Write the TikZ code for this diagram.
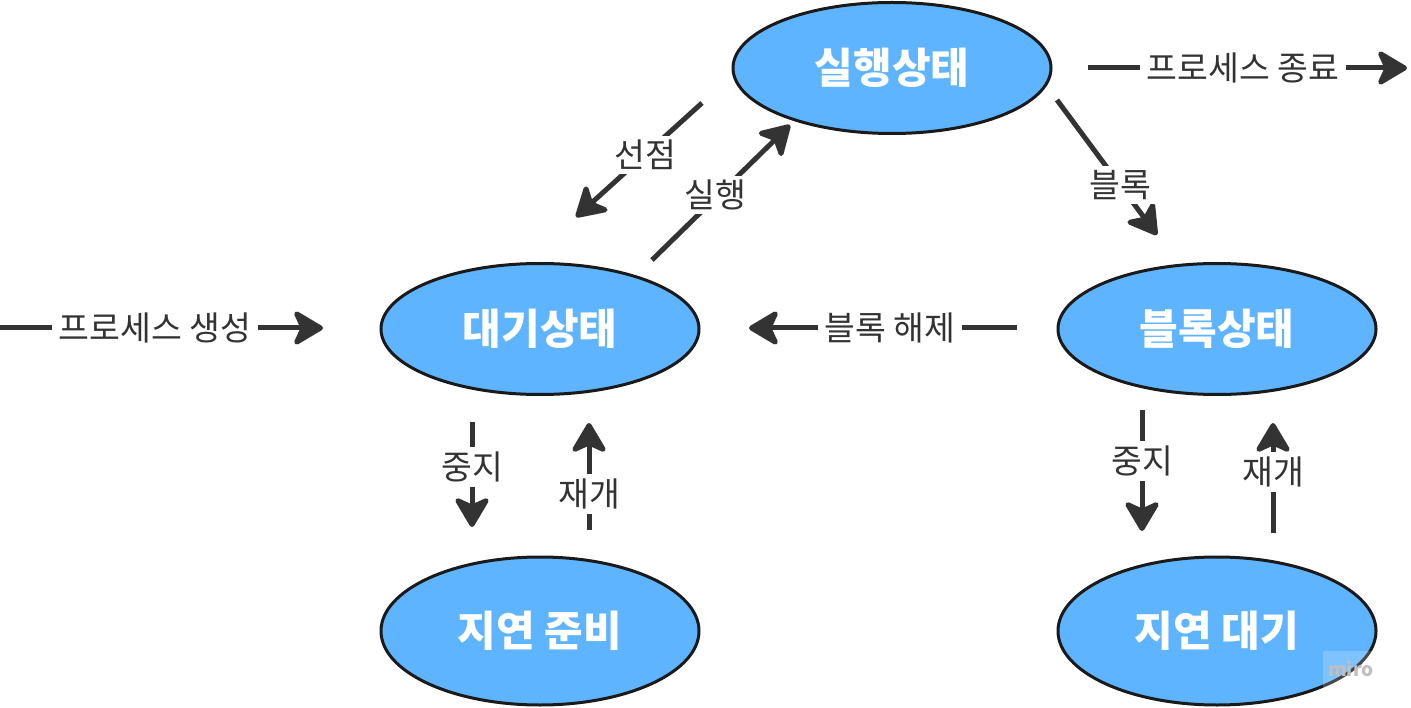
\documentclass[tikz,border=0pt]{standalone}
\usepackage{fontspec}
\setmainfont{Noto Sans CJK KR}
\usetikzlibrary{arrows.meta,shapes.geometric}
\definecolor{nodeblue}{HTML}{5EB4FF}
\definecolor{arrowgray}{HTML}{333333}
\definecolor{outlinecol}{HTML}{1A1A1A}
\begin{document}
\begin{tikzpicture}[x=1pt,y=-1pt,
  state/.style={ellipse, draw=outlinecol, line width=3pt, fill=nodeblue,
    minimum width=318pt, minimum height=131pt, inner sep=0pt,
    text=white, font=\fontsize{42}{46}\selectfont\bfseries},
  tallstate/.style={state, minimum height=148pt},
  flow/.style={draw=arrowgray, line width=5pt, -{Stealth[length=34pt,width=40pt,inset=9pt,round]}},
  lbl/.style={fill=white, text=arrowgray, inner sep=7pt, font=\fontsize{33.5}{37}\selectfont}]
\useasboundingbox (0,0) rectangle (1411,708);
\fill[white] (0,0) rectangle (1411,708);

% states
\node[state] (run) at (892,68) {실행상태};
\node[state] (ready) at (540,329) {대기상태};
\node[state] (block) at (1217,329) {블록상태};
\node[tallstate] (susready) at (540,631) {지연 준비};
\node[tallstate] (susblock) at (1217,631) {지연 대기};

% free ends of connectors
\coordinate (createS) at (0,328);
\coordinate (createE) at (323,328);
\coordinate (exitS) at (1088,68);
\coordinate (exitE) at (1407,68);
\coordinate (unblockS) at (1017,328);
\coordinate (unblockE) at (749,328);
\coordinate (preemptS) at (702,103);
\coordinate (preemptE) at (576,217);
\coordinate (dispatchS) at (652,260);
\coordinate (dispatchE) at (790,125);
\coordinate (blockS) at (1057,100);
\coordinate (blockE) at (1157,235);
\coordinate (susLS) at (472,422);
\coordinate (susLE) at (472,527);
\coordinate (resLS) at (589,530);
\coordinate (resLE) at (589,423);
\coordinate (susRS) at (1142,410);
\coordinate (susRE) at (1142,531);
\coordinate (resRS) at (1273,533);
\coordinate (resRE) at (1273,423);

% connectors with labels
\draw[flow] (createS) -- (createE);
\node[lbl] (createL) at (155,328) {프로세스 생성};
\draw[flow] (exitS) -- (exitE);
\node[lbl] (exitL) at (1243,68) {프로세스 종료};
\draw[flow] (unblockS) -- (unblockE);
\node[lbl] (unblockL) at (890,328) {블록 해제};
\draw[flow] (preemptS) -- (preemptE);
\node[lbl, inner sep=4pt] (preemptL) at (645,155) {선점};
\draw[flow] (dispatchS) -- (dispatchE);
\node[lbl, inner sep=4pt] (dispatchL) at (715,195) {실행};
\draw[flow] (blockS) -- (blockE);
\node[lbl, inner sep=4pt] (blockL) at (1120,185) {블록};
\draw[flow] (susLS) -- (susLE);
\node[lbl, inner sep=5pt] (susLL) at (472,467) {중지};
\draw[flow] (resLS) -- (resLE);
\node[lbl, inner sep=5pt] (resLL) at (589,494) {재개};
\draw[flow] (susRS) -- (susRE);
\node[lbl, inner sep=5pt] (susRL) at (1142,461) {중지};
\draw[flow] (resRS) -- (resRE);
\node[lbl, inner sep=5pt] (resRL) at (1273,472) {재개};

% watermark
\fill[white, fill opacity=0.2] (1323,651) rectangle (1378,690);
\node[text=black!25, font=\fontsize{19}{20}\selectfont\bfseries, inner sep=0pt] (wm) at (1351,669) {miro};
\end{tikzpicture}
\end{document}
